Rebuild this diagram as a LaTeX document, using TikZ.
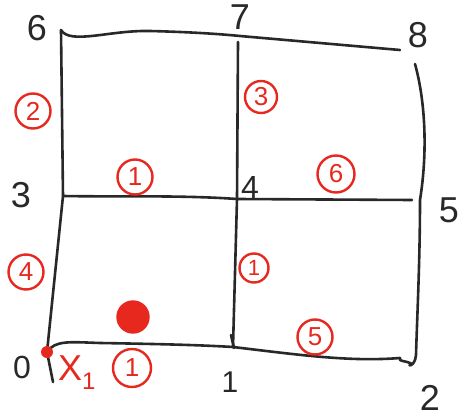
\documentclass[tikz,border=0pt]{standalone}
\usepackage{fontspec}
\setmainfont{Liberation Sans}
\definecolor{penred}{RGB}{230,40,30}
\definecolor{ink}{RGB}{40,40,40}
\begin{document}
\begin{tikzpicture}[x=1pt,y=-1pt,
  gridline/.style={draw=ink,line width=2.6pt,line cap=round,line join=round},
  numlab/.style={text=ink,font=\fontsize{36}{36}\selectfont,inner sep=0pt},
  redcirc/.style={circle,draw=penred,line width=2.4pt,text=penred,minimum size=35pt,inner sep=0pt,font=\fontsize{26}{26}\selectfont},
  redlab/.style={text=penred,font=\fontsize{36}{36}\selectfont,inner sep=0pt}]
\useasboundingbox (0,0) rectangle (466,420);
% grid points
\coordinate (p0) at (47,352);
\coordinate (p1) at (233,347);
\coordinate (p2) at (412,364);
\coordinate (p3) at (63,196);
\coordinate (p4) at (237,199);
\coordinate (p5) at (420,200);
\coordinate (p6) at (61,30);
\coordinate (p7) at (240,36);
\coordinate (p8) at (400,50);
% lines
\draw[gridline] (p6) .. controls (70,45) and (110,30) .. (150,31) .. controls (190,32) and (220,34) .. (p7) -- (p8);
\draw[gridline] (p6) -- (p3) -- (p0) -- (53,382);
\draw[gridline] (p3) .. controls (120,197) and (180,195) .. (p4) -- (412,200);
\draw[gridline] (238,42) -- (p4) -- (p1);
\draw[gridline] (231,335) -- (234,348);
\draw[gridline] (415,64) .. controls (425,100) and (428,150) .. (p5) .. controls (420,260) and (417,320) .. (416,355) .. controls (415,368) and (405,366) .. (p2) .. controls (405,360) and (398,362) .. (400,358);
\draw[gridline] (p0) .. controls (55,340) and (70,342) .. (100,343) .. controls (160,344) and (200,345) .. (p1) .. controls (300,355) and (350,362) .. (400,358);
% black node numbers
\node[numlab,font=\fontsize{32}{32}\selectfont] (l0) at (22,367) {0};
\node[numlab,font=\fontsize{30}{30}\selectfont] (l1) at (230,382) {1};
\node[numlab] (l2) at (430,398) {2};
\node[numlab] (l3) at (21,195) {3};
\node[numlab,font=\fontsize{32}{32}\selectfont] (l4) at (250,187) {4};
\node[numlab] (l5) at (449,210) {5};
\node[numlab] (l6) at (37,28) {6};
\node[numlab] (l7) at (240,17) {7};
\node[numlab] (l8) at (418,35) {8};
% red markers
\node[redcirc] (c2) at (33,111) {2};
\node[redcirc] (c1a) at (135,177) {1};
\node[redcirc,minimum size=32pt] (c3) at (261,97) {3};
\node[redcirc,minimum size=37pt] (c6) at (336,174) {6};
\node[redcirc] (c4) at (26,272) {4};
\node[redcirc,fill=penred,minimum size=31pt] (cf) at (133,317) {};
\node[redcirc,minimum size=38pt] (c1b) at (132,368) {1};
\node[redcirc,minimum size=29pt,font=\fontsize{22}{22}\selectfont] (c13) at (254,268) {1};
\node[redcirc] (c5) at (315,337) {5};
\node[circle,fill=penred,inner sep=0pt,minimum size=12pt] (dot) at (p0) {};
\node[redlab,anchor=west] (x1) at (58,373) {X\raisebox{-9pt}{\fontsize{24}{24}\selectfont 1}};
\end{tikzpicture}
\end{document}
